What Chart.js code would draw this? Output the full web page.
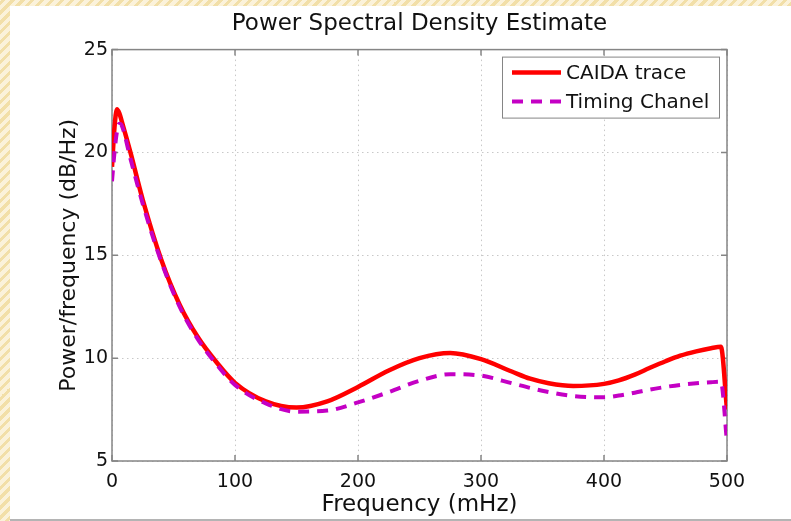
<!DOCTYPE html>
<html>
<head>
<meta charset="utf-8">
<script src="https://cdn.jsdelivr.net/npm/chart.js@4/dist/chart.umd.min.js"></script>
<style>
    html, body {
        margin: 0;
        padding: 0;
        width: 791px;
        height: 521px;
        overflow: hidden;
        background: repeating-linear-gradient(-45deg, #f2dfa8 0 3px, #fbf2da 3px 7px);
    }
    #panel {
        position: absolute;
        left: 10px;
        top: 6px;
        width: 790px;
        height: 513px;
        background: #ffffff;
        border-bottom: 2px solid #b4b4b4;
    }
    #wrap {
        position: relative;
        width: 781px;
        height: 513px;
    }
</style>
</head>
<body>
<div id="panel"><div id="wrap"><canvas id="psd"></canvas></div></div>
<script>
const freqs = [0, 2, 4, 6, 8, 15, 25, 40, 55, 70, 85, 100, 125, 150, 175, 200, 225, 250, 275, 300, 325, 340, 355, 375, 400, 412, 425, 437, 450, 462, 475, 487, 495, 500]
const caida = [19.3, 21.2, 22.1, 21.9, 21.5, 20.0, 17.7, 14.8, 12.6, 11.0, 9.8, 8.8, 7.9, 7.6, 7.9, 8.6, 9.4, 10.0, 10.25, 9.95, 9.35, 9.0, 8.78, 8.65, 8.75, 8.92, 9.2, 9.52, 9.85, 10.12, 10.33, 10.48, 10.55, 7.5]
const timing = [18.6, 20.0, 21.0, 21.4, 21.3, 19.7, 17.5, 14.7, 12.5, 10.9, 9.7, 8.7, 7.8, 7.4, 7.45, 7.85, 8.35, 8.9, 9.22, 9.15, 8.78, 8.55, 8.35, 8.16, 8.1, 8.18, 8.32, 8.47, 8.6, 8.7, 8.78, 8.83, 8.85, 5.9]
const seriesNames = ['CAIDA trace', 'Timing Chanel']
const xTicks = [0, 100, 200, 300, 400, 500]
const yTicks = [5, 10, 15, 20, 25]

const FONT = 'DejaVu Sans'

// box around the plot + small inward ticks, matlab style
const boxPlugin = {
    id: 'box',
    beforeDatasetsDraw(chart) {
        const ctx = chart.ctx
        const a = chart.chartArea
        const xs = chart.scales.x
        const ys = chart.scales.y
        ctx.save()
        ctx.strokeStyle = '#858585'
        ctx.lineWidth = 1.5
        ctx.beginPath()
        xTicks.forEach(function (t) {
            const px = xs.getPixelForValue(t)
            ctx.moveTo(px, a.bottom); ctx.lineTo(px, a.bottom - 6)
            ctx.moveTo(px, a.top); ctx.lineTo(px, a.top + 6)
        })
        yTicks.forEach(function (t) {
            const py = ys.getPixelForValue(t)
            ctx.moveTo(a.left, py); ctx.lineTo(a.left + 6, py)
            ctx.moveTo(a.right, py); ctx.lineTo(a.right - 6, py)
        })
        ctx.stroke()
        ctx.strokeRect(a.left, a.top, a.right - a.left, a.bottom - a.top)
        ctx.restore()
    }
}

const legendPlugin = {
    id: 'boxLegend',
    afterDatasetsDraw(chart) {
        const ctx = chart.ctx
        const a = chart.chartArea
        const w = 217, h = 61
        const left = a.right - 8 - w
        const top = a.top + 7
        ctx.save()
        ctx.fillStyle = '#ffffff'
        ctx.fillRect(left, top, w, h)
        ctx.strokeStyle = '#858585'
        ctx.lineWidth = 1
        ctx.strokeRect(left + 0.5, top + 0.5, w, h)
        ctx.font = '20px "' + FONT + '"'
        ctx.textBaseline = 'middle'
        chart.data.datasets.forEach(function (ds, i) {
            const y = top + 16 + i * 29
            ctx.strokeStyle = ds.borderColor
            ctx.lineWidth = ds.borderWidth
            ctx.setLineDash(ds.borderDash || [])
            ctx.beginPath()
            ctx.moveTo(left + 10, y)
            ctx.lineTo(left + 59, y)
            ctx.stroke()
            ctx.setLineDash([])
            ctx.fillStyle = '#111111'
            ctx.fillText(ds.label, left + 64, y + 1)
        })
        ctx.restore()
    }
}

const CHART = document.getElementById('psd')

new Chart(CHART, {
    type: 'line',
    data: {
        labels: freqs,
        datasets: [{
            label: seriesNames[0],
            data: freqs.map(function (f, i) { return { x: f, y: caida[i] } }),
            borderColor: '#ff0000',
            borderWidth: 4.5,
            pointRadius: 0,
            cubicInterpolationMode: 'monotone',
            order: 1
        }, {
            label: seriesNames[1],
            data: freqs.map(function (f, i) { return { x: f, y: timing[i] } }),
            borderColor: '#c400c4',
            borderWidth: 4,
            borderDash: [11, 8],
            pointRadius: 0,
            cubicInterpolationMode: 'monotone',
            order: 0
        }]
    },
    options: {
        responsive: true,
        maintainAspectRatio: false,
        animation: false,
        layout: {
            padding: { left: 0, right: 64, top: 0, bottom: 0 }
        },
        plugins: {
            legend: { display: false },
            tooltip: { enabled: false },
            title: {
                display: true,
                fullSize: false,
                text: 'Power Spectral Density Estimate',
                color: '#111111',
                font: { family: FONT, size: 23, weight: 'normal' },
                padding: { top: 4, bottom: 12 }
            }
        },
        scales: {
            x: {
                type: 'linear',
                min: 0,
                max: 500,
                afterBuildTicks: function (scale) { scale.ticks = xTicks.map(function (v) { return { value: v } }) },
                afterFit: function (scale) { scale.height = 58 },
                grid: { color: '#c8c8c8', lineWidth: 1, drawTicks: false },
                border: { display: false, dash: [1.5, 3.5] },
                ticks: { color: '#111111', font: { family: FONT, size: 19 }, padding: 10, maxRotation: 0 },
                title: {
                    display: true,
                    text: 'Frequency (mHz)',
                    color: '#111111',
                    font: { family: FONT, size: 23 },
                    padding: { top: 0, bottom: 0 }
                }
            },
            y: {
                min: 5,
                max: 25,
                afterBuildTicks: function (scale) { scale.ticks = yTicks.map(function (v) { return { value: v } }) },
                afterFit: function (scale) { scale.width = 102 },
                grid: { color: '#c8c8c8', lineWidth: 1, drawTicks: false },
                border: { display: false, dash: [1.5, 3.5] },
                ticks: { color: '#111111', font: { family: FONT, size: 19 }, padding: 4 },
                title: {
                    display: true,
                    text: 'Power/frequency (dB/Hz)',
                    color: '#111111',
                    font: { family: FONT, size: 22 },
                    padding: { top: 46, bottom: 0 }
                }
            }
        }
    },
    plugins: [boxPlugin, legendPlugin]
});
</script>
</body>
</html>
